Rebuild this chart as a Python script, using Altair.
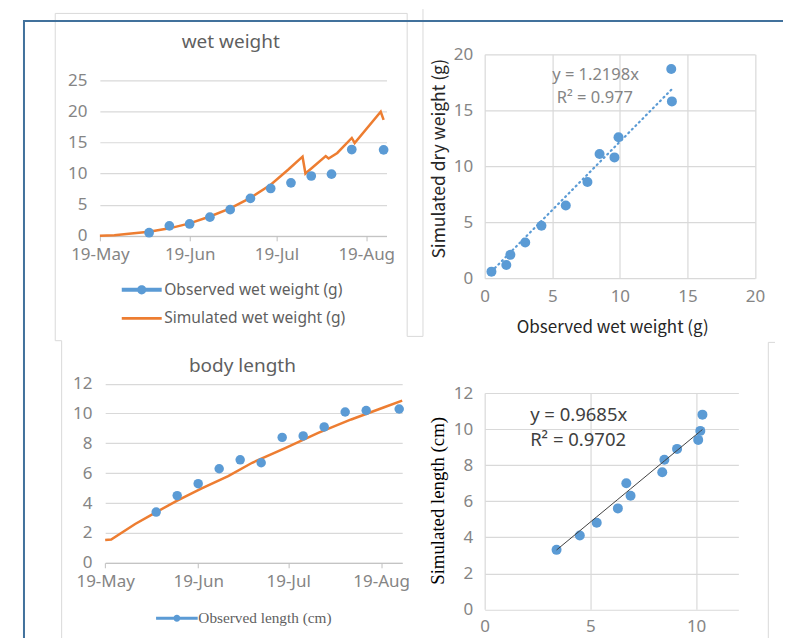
import altair as alt
import pandas as pd

# ---------------- data ----------------
obs_dates = ["2019-06-05", "2019-06-12", "2019-06-19", "2019-06-26", "2019-07-03", "2019-07-10",
             "2019-07-17", "2019-07-24", "2019-07-31", "2019-08-07", "2019-08-14", "2019-08-25"]
obs_wet = [0.5, 1.6, 1.9, 3.0, 4.2, 6.0, 7.6, 8.5, 9.6, 9.9, 13.85, 13.8]
sim_wet_at_obs = [0.6, 1.2, 2.1, 3.2, 4.7, 6.5, 8.6, 11.1, 10.8, 12.6, 15.8, 18.7]
obs_len = [3.4, 4.5, 5.3, 6.3, 6.9, 6.7, 8.4, 8.5, 9.1, 10.1, 10.2, 10.3]
sim_len_at_obs = [3.3, 4.1, 4.8, 5.6, 6.3, 7.0, 7.6, 8.3, 8.9, 9.4, 9.9, 10.8]

sim_wet_dates = ["2019-05-19", "2019-05-24", "2019-05-29", "2019-06-05", "2019-06-12", "2019-06-19",
                 "2019-06-26", "2019-07-03", "2019-07-10", "2019-07-17", "2019-07-23", "2019-07-28",
                 "2019-07-29", "2019-08-05", "2019-08-06", "2019-08-09", "2019-08-14", "2019-08-15",
                 "2019-08-24", "2019-08-25"]
sim_wet = [0.0, 0.1, 0.35, 0.65, 1.2, 2.0, 3.1, 4.4, 6.1, 8.2, 10.6, 12.7,
           10.0, 12.8, 12.4, 13.3, 15.7, 14.9, 19.9, 18.6]

sim_len_dates = ["2019-05-19", "2019-05-21", "2019-05-29", "2019-06-04", "2019-06-12", "2019-06-20",
                 "2019-06-29", "2019-07-07", "2019-07-18", "2019-07-29", "2019-08-09", "2019-08-20",
                 "2019-08-26"]
sim_len = [1.52, 1.56, 2.6, 3.28, 4.17, 4.97, 5.8, 6.7, 7.68, 8.7, 9.6, 10.42, 10.86]

wet_series = ["Observed wet weight (g)", "Simulated wet weight (g)"]
len_series = ["Observed length (cm)", "Simulated length (cm)"]
slope_wet, r2_wet = 1.2198, 0.977
slope_len, r2_len = 0.9685, 0.9702

# ---------------- styling ----------------
BLUE = "#5B9BD5"
ORANGE = "#ED7D31"
GRID = "#D9D9D9"
LAB = "#858585"
TXT = "#5F5F5F"
SANS = "Noto Sans"
SERIF = "Liberation Serif"
LABEL_SIZE = 17

d0 = alt.DateTime(year=2019, month=5, date=19, utc=True)
d1 = alt.DateTime(year=2019, month=8, date=26, utc=True)
month_ticks = [alt.DateTime(year=2019, month=m, date=19, utc=True) for m in (5, 6, 7, 8)]

obs_df = pd.DataFrame({"date": obs_dates, "wet": obs_wet, "sim_wet": sim_wet_at_obs,
                       "len": obs_len, "sim_len": sim_len_at_obs})
simw_df = pd.DataFrame({"date": sim_wet_dates, "val": sim_wet})
siml_df = pd.DataFrame({"date": sim_len_dates, "val": sim_len})

# plot-area origin of panel A in page pixels (used to place the frame lines)
ORIGIN = (99, 53.3)
FRAME = [  # (x1, y1, x2, y2, colour, width) in page pixels
    (54.3, 12.3, 54.3, 340, "#D9D9D9", 1),
    (54.3, 12.3, 406.7, 12.3, "#D9D9D9", 1),
    (406.7, 12.3, 406.7, 335.7, "#D9D9D9", 1),
    (54.3, 340, 60.7, 340, "#D9D9D9", 1),
    (406.7, 335.7, 422.5, 335.7, "#D9D9D9", 1),
    (422.5, 8, 422.5, 335.7, "#D9D9D9", 1),
    (60.7, 340, 60.7, 638, "#D9D9D9", 1),
    (768.3, 341.7, 768.3, 638, "#D9D9D9", 1),
    (768.3, 341.7, 775, 341.7, "#D9D9D9", 1),
    (22, 20, 783, 20, "#41719C", 2),
    (23, 20, 23, 638, "#41719C", 2),
]
one = pd.DataFrame({"k": [0]})


def seg(x1, y1, x2, y2, color, width):
    ox, oy = ORIGIN
    return alt.Chart(one).mark_rule(color=color, strokeWidth=width).encode(
        x=alt.value(x1 - ox), x2=alt.value(x2 - ox), y=alt.value(y1 - oy), y2=alt.value(y2 - oy))


def panel_title(text, x, y):
    return alt.Chart(one).mark_text(font=SANS, fontSize=19, color=TXT, align="center",
                                    baseline="middle").encode(
        x=alt.value(x), y=alt.value(y), text=alt.value(text))


def time_x(rng=None):
    sc = alt.Scale(type="utc", domain=[d0, d1]) if rng is None else alt.Scale(type="utc", domain=[d0, d1], range=rng)
    return alt.X("date:T", title=None, scale=sc,
                 axis=alt.Axis(values=month_ticks, format="%d-%b", grid=False, domain=True,
                               domainColor="#BFBFBF", ticks=True, tickColor="#BFBFBF", tickSize=5,
                               labelPadding=6, labelFontSize=LABEL_SIZE, labelFlush=False))


def legend_layer(names, paths, size, x, y, font, fsize, offset, rowpad):
    leg = alt.Legend(title=None, orient="none", legendX=x, legendY=y, direction="vertical",
                     labelFont=font, labelFontSize=fsize, labelColor=TXT, symbolSize=size,
                     symbolStrokeWidth=0, labelOffset=offset, rowPadding=rowpad, padding=0,
                     labelLimit=400)
    return alt.Chart(pd.DataFrame({"series": names})).transform_filter("false").mark_point(
        filled=True, opacity=1).encode(
        color=alt.Color("series:N", scale=alt.Scale(domain=names, range=[BLUE, ORANGE]), legend=leg),
        shape=alt.Shape("series:N", scale=alt.Scale(domain=names, range=paths), legend=leg))


# ---------------- panel A: wet weight over time ----------------
yA_scale = alt.Scale(domain=[0, 25], nice=False, range=[181.7, 25.7])
yA_axis = alt.Axis(values=[0, 5, 10, 15, 20, 25], grid=True, domain=False, ticks=False,
                   labelPadding=13, labelFontSize=LABEL_SIZE)
xA = time_x()
lineA = alt.Chart(simw_df).mark_line(color=ORANGE, strokeWidth=2.5).encode(
    x=xA, y=alt.Y("val:Q", title=None, scale=yA_scale, axis=yA_axis))
ptsA = alt.Chart(obs_df).mark_circle(size=95, color=BLUE, opacity=1).encode(
    x=xA, y=alt.Y("wet:Q", title=None, scale=yA_scale, axis=yA_axis))
pathA_obs = ("M-1.5,-0.15L1.5,-0.15L1.5,0.15L-1.5,0.15Z "
             "M0.35,0A0.35,0.35 0 1,1 -0.35,0A0.35,0.35 0 1,1 0.35,0Z")
pathA_sim = "M-1.5,-0.1L1.5,-0.1L1.5,0.1L-1.5,0.1Z"
legA = legend_layer(wet_series, [pathA_obs, pathA_sim], 711, 28.4, 222.3, SANS, 15.6, 9, 5.5)
frame_layers = [seg(*s) for s in FRAME]
A = alt.layer(*frame_layers, lineA, ptsA, legA, panel_title("wet weight", 131, -12.3)).properties(
    width=287, height=181.7)

# ---------------- panel B: simulated vs observed wet weight ----------------
xB_scale = alt.Scale(domain=[0, 20], nice=False)
yB_scale = alt.Scale(domain=[0, 20], nice=False)
xB_axis = alt.Axis(values=[0, 5, 10, 15, 20], title="Observed wet weight (g)", grid=True,
                   domain=False, ticks=False, labelPadding=10, labelFontSize=LABEL_SIZE, labelFlush=False,
                   titleFont="Noto Sans CJK SC", titleFontSize=17, titleFontWeight="normal",
                   titleColor="#262626", titleX=127.7, titleY=49.3, titleBaseline="middle")
yB_axis = alt.Axis(values=[0, 5, 10, 15, 20], title="Simulated dry weight (g)", grid=True,
                   domain=False, ticks=False, labelPadding=12, labelFontSize=LABEL_SIZE,
                   titleFont="Noto Sans CJK SC", titleFontSize=17.5, titleFontWeight="normal",
                   titleColor="#262626", titleX=-45, titleY=104, titleBaseline="middle")
trendB = alt.Chart(obs_df).transform_calculate(fit=f"{slope_wet} * datum.wet").mark_line(
    color=BLUE, strokeWidth=2.2, strokeDash=[1, 4], strokeCap="round").encode(
    x=alt.X("wet:Q", scale=xB_scale, axis=xB_axis),
    y=alt.Y("fit:Q", scale=yB_scale, axis=yB_axis))
ptsB = alt.Chart(obs_df).mark_circle(size=100, color=BLUE, opacity=1).encode(
    x=alt.X("wet:Q", scale=xB_scale, axis=xB_axis),
    y=alt.Y("sim_wet:Q", scale=yB_scale, axis=yB_axis))
eqB = pd.DataFrame({"t": [f"y = {slope_wet}x", f"R² = {r2_wet}"], "tx": [8.2, 8.15], "ty": [18.15, 16.1]})
textB = alt.Chart(eqB).mark_text(font=SANS, fontSize=16.5, color=LAB, align="center", baseline="middle").encode(
    x=alt.X("tx:Q", scale=xB_scale, axis=xB_axis),
    y=alt.Y("ty:Q", scale=yB_scale, axis=yB_axis), text="t:N")
B = alt.layer(trendB, ptsB, textB).properties(width=270.7, height=224.3)

# ---------------- panel C: body length over time ----------------
yC_scale = alt.Scale(domain=[0, 12], nice=False, range=[170, -9.4])
yC_axis = alt.Axis(values=[0, 2, 4, 6, 8, 10, 12], grid=True, domain=False, ticks=False,
                   labelPadding=8, labelFontSize=LABEL_SIZE)
xC = time_x([5.3, 302.7])
lineC = alt.Chart(siml_df).mark_line(color=ORANGE, strokeWidth=2.5).encode(
    x=xC, y=alt.Y("val:Q", title=None, scale=yC_scale, axis=yC_axis))
ptsC = alt.Chart(obs_df).mark_circle(size=90, color=BLUE, opacity=1).encode(
    x=xC, y=alt.Y("len:Q", title=None, scale=yC_scale, axis=yC_axis))
pathC_obs = ("M-1.5,-0.11L1.5,-0.11L1.5,0.11L-1.5,0.11Z "
             "M0.25,0A0.25,0.25 0 1,1 -0.25,0A0.25,0.25 0 1,1 0.25,0Z")
pathC_sim = "M-1.5,-0.08L1.5,-0.08L1.5,0.08L-1.5,0.08Z"
legC = legend_layer(len_series, [pathC_obs, pathC_sim], 772, 63.1, 211.5, SERIF, 15.3, 7.5, 4)
C = alt.layer(lineC, ptsC, legC, panel_title("body length", 142.7, -26.7)).properties(
    width=303, height=170)

# ---------------- panel D: simulated vs observed length ----------------
xD_scale = alt.Scale(domain=[0, 12], nice=False)
yD_scale = alt.Scale(domain=[0, 12], nice=False)
xD_axis = alt.Axis(values=[0, 5, 10], title="Observed length (cm)", grid=True, domain=False,
                   ticks=False, labelPadding=9, labelFontSize=LABEL_SIZE, labelFlush=False,
                   titleFont=SERIF, titleFontSize=19, titleFontWeight="normal", titleColor="#000000",
                   titleX=119.2, titleY=38, titleBaseline="middle")
yD_axis = alt.Axis(values=[0, 2, 4, 6, 8, 10, 12], title="Simulated length (cm)", grid=True,
                   domain=False, ticks=False, labelPadding=12, labelFontSize=LABEL_SIZE,
                   titleFont=SERIF, titleFontSize=18.8, titleFontWeight="normal", titleColor="#000000",
                   titleX=-47, titleY=107.5, titleBaseline="middle")
trendD = alt.Chart(obs_df).transform_calculate(fit=f"{slope_len} * datum.len").mark_line(
    color="#404040", strokeWidth=1).encode(
    x=alt.X("len:Q", scale=xD_scale, axis=xD_axis),
    y=alt.Y("fit:Q", scale=yD_scale, axis=yD_axis))
ptsD = alt.Chart(obs_df).mark_circle(size=100, color=BLUE, opacity=1).encode(
    x=alt.X("len:Q", scale=xD_scale, axis=xD_axis),
    y=alt.Y("sim_len:Q", scale=yD_scale, axis=yD_axis))
eqD = pd.DataFrame({"t": [f"y = {slope_len}x", f"R² = {r2_len}"], "tx": [2.15, 2.15], "ty": [10.8, 9.41]})
textD = alt.Chart(eqD).mark_text(font=SANS, fontSize=18.5, color="#404040", align="left", baseline="middle").encode(
    x=alt.X("tx:Q", scale=xD_scale, axis=xD_axis),
    y=alt.Y("ty:Q", scale=yD_scale, axis=yD_axis), text="t:N")
D = alt.layer(ptsD, trendD, textD).properties(width=254, height=216.6)

chart = alt.concat(A, B, C, D, columns=2, spacing={"row": 114.1, "column": 82.3},
                   bounds="flush", align="all").resolve_scale(
    color="independent", shape="independent").resolve_legend(
    color="independent", shape="independent").properties(
    padding={"left": 14, "top": 0, "right": 0, "bottom": 0}, background="white"
).configure_view(stroke=None).configure_axis(
    labelFont=SANS, labelColor=LAB, gridColor=GRID, gridWidth=1.2)

chart.save("out.html", embed_options={"renderer": "svg", "actions": False})
